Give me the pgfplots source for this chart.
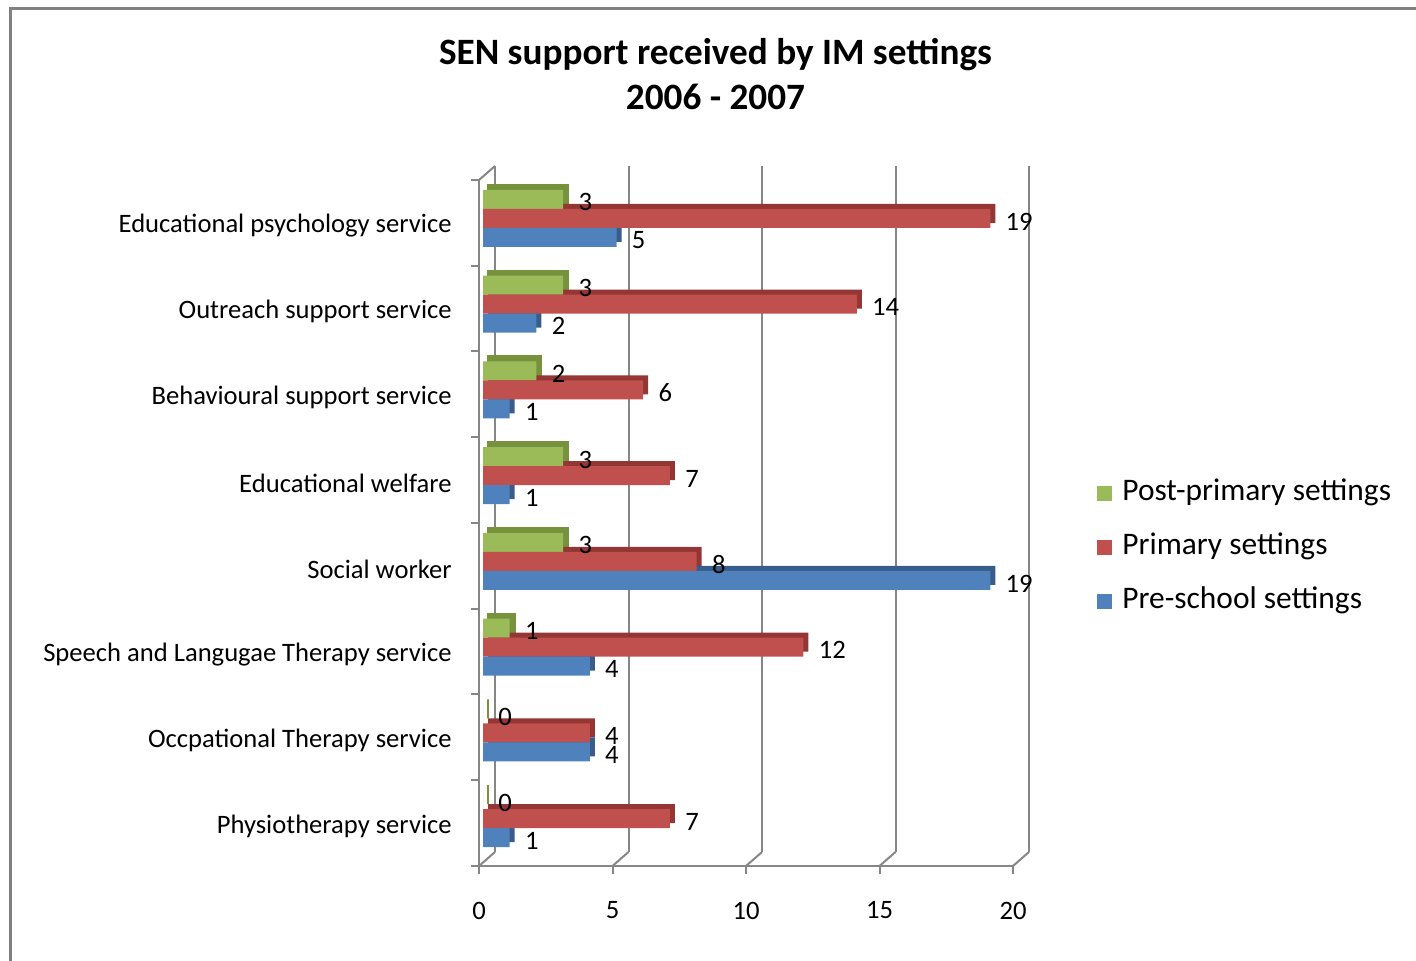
\documentclass[border=0pt]{standalone}
\usepackage{pgfplots}
\usepackage{pgfplotstable}
\pgfplotsset{compat=1.18}
\usepackage{fontspec}
\setmainfont{Carlito}

\definecolor{cgreen}{HTML}{9BBB59}
\definecolor{cred}{HTML}{C0504D}
\definecolor{cblue}{HTML}{4F81BD}
\definecolor{dgreen}{HTML}{76923C}
\definecolor{dred}{HTML}{943634}
\definecolor{dblue}{HTML}{385D8A}
\definecolor{lgray}{HTML}{868686}
\definecolor{fgray}{HTML}{808080}

\newcommand\catfont{\fontsize{13.3}{15.8}\selectfont}

% cat: 8 = top category
\pgfplotstableread{
cat post primary pre
8 3 19 5
7 3 14 2
6 2 6 1
5 3 7 1
4 3 8 19
3 1 12 4
2 0 4 4
1 0 7 1
}\datatable

\pgfplotsset{
  base3d/.style={scale only axis, width=267pt, height=343pt,
    xmin=0, xmax=20, ymin=0.5, ymax=8.5, clip=false,
    /pgf/number format/assume math mode=true},
  barstyle/.style={xbar, bar width=0.2216, bar shift=0pt},
}

\begin{document}
\begin{tikzpicture}[x=1pt,y=1pt]
\path[use as bounding box] (0,0) rectangle (708,480.5);
\draw[color=fgray, line width=1.5pt] (5,-5) -- (5,476) -- (715,476);
\node[font=\bfseries\fontsize{18.6}{22.5}\selectfont, align=center] at (357.75,443.25)
  {SEN support received by IM settings\\2006 - 2007};

% front plane: axis lines, ticks, back wall
\begin{axis}[base3d, at={(239.5pt,47.5pt)}, anchor=south west,
  axis x line*=bottom, axis y line*=left,
  axis line style={lgray, line width=1pt, -},
  xtick={0,5,10,15,20}, ytick={0.5,1.5,...,8.5}, yticklabels={},
  tick align=outside, major tick length=4.25pt,
  tick style={lgray, line width=1pt},
  xticklabel style={anchor=center, yshift=-18pt, inner sep=0pt, font=\catfont},
]
\draw[lgray, line width=1pt] ([shift={(8pt,7pt)}]axis cs:0,0.5) -- ([shift={(8pt,7pt)}]axis cs:0,8.5);
\draw[lgray, line width=1pt] ([shift={(8pt,7pt)}]axis cs:5,0.5) -- ([shift={(8pt,7pt)}]axis cs:5,8.5);
\draw[lgray, line width=1pt] ([shift={(8pt,7pt)}]axis cs:10,0.5) -- ([shift={(8pt,7pt)}]axis cs:10,8.5);
\draw[lgray, line width=1pt] ([shift={(8pt,7pt)}]axis cs:15,0.5) -- ([shift={(8pt,7pt)}]axis cs:15,8.5);
\draw[lgray, line width=1pt] ([shift={(8pt,7pt)}]axis cs:20,0.5) -- ([shift={(8pt,7pt)}]axis cs:20,8.5);
\draw[lgray, line width=1pt] (axis cs:0,0.5) -- ([shift={(8pt,7pt)}]axis cs:0,0.5);
\draw[lgray, line width=1pt] (axis cs:5,0.5) -- ([shift={(8pt,7pt)}]axis cs:5,0.5);
\draw[lgray, line width=1pt] (axis cs:10,0.5) -- ([shift={(8pt,7pt)}]axis cs:10,0.5);
\draw[lgray, line width=1pt] (axis cs:15,0.5) -- ([shift={(8pt,7pt)}]axis cs:15,0.5);
\draw[lgray, line width=1pt] (axis cs:20,0.5) -- ([shift={(8pt,7pt)}]axis cs:20,0.5);
\draw[lgray, line width=1pt] (axis cs:0,8.5) -- ([shift={(8pt,7pt)}]axis cs:0,8.5);
\end{axis}

% shaded depth faces of the bars
\begin{axis}[base3d, at={(244pt,50pt)}, anchor=south west,
  axis line style={draw=none}, xtick=\empty, ytick=\empty]
\addplot[barstyle, fill=dgreen, draw=dgreen, line width=1pt] table[x=post, y expr=\thisrow{cat}+0.2735] {\datatable};
\addplot[barstyle, fill=dred, draw=none] table[x=primary, y expr=\thisrow{cat}+0.0519] {\datatable};
\addplot[barstyle, fill=dblue, draw=none] table[x=pre, y expr=\thisrow{cat}-0.1697] {\datatable};
\end{axis}

% front faces, labels, legend
\begin{axis}[base3d, at={(241.5pt,47.5pt)}, anchor=south west,
  axis line style={draw=none}, xtick=\empty,
  ytick={1,...,8}, major tick length=0pt, ytick style={draw=none},
  yticklabels={Physiotherapy service, Occpational Therapy service,
    Speech and Langugae Therapy service, Social worker,
    Educational welfare\hspace{3pt}, Behavioural support service,
    Outreach support service, Educational psychology service},
  yticklabel style={anchor=east, inner sep=0pt, xshift=-15.5pt, yshift=-1.5pt, font=\catfont},
  point meta=x,
  nodes near coords,
  every node near coord/.append style={anchor=west, inner sep=0pt,
    xshift=7.5pt, yshift=-1.5pt, font=\catfont, text=black},
  legend cell align=left,
  legend image code/.code={\fill[#1] (0pt,-3.75pt) rectangle (7.5pt,3.75pt);},
  legend style={at={(1.1498,0.4636)}, anchor=west, draw=none, fill=none,
    inner sep=0pt, font=\fontsize{15.7}{18}\selectfont,
    row sep=12pt, column sep=5pt,
    nodes={inner sep=0pt, text height=11pt, text depth=4pt}},
]
\addplot[barstyle, fill=cgreen, draw=none] table[x=post, y expr=\thisrow{cat}+0.2735] {\datatable};
\addplot[barstyle, fill=cred, draw=none] table[x=primary, y expr=\thisrow{cat}+0.0519] {\datatable};
\addplot[barstyle, fill=cblue, draw=none] table[x=pre, y expr=\thisrow{cat}-0.1697] {\datatable};
\legend{Post-primary settings, Primary settings, Pre-school settings}
\end{axis}
\end{tikzpicture}
\end{document}
